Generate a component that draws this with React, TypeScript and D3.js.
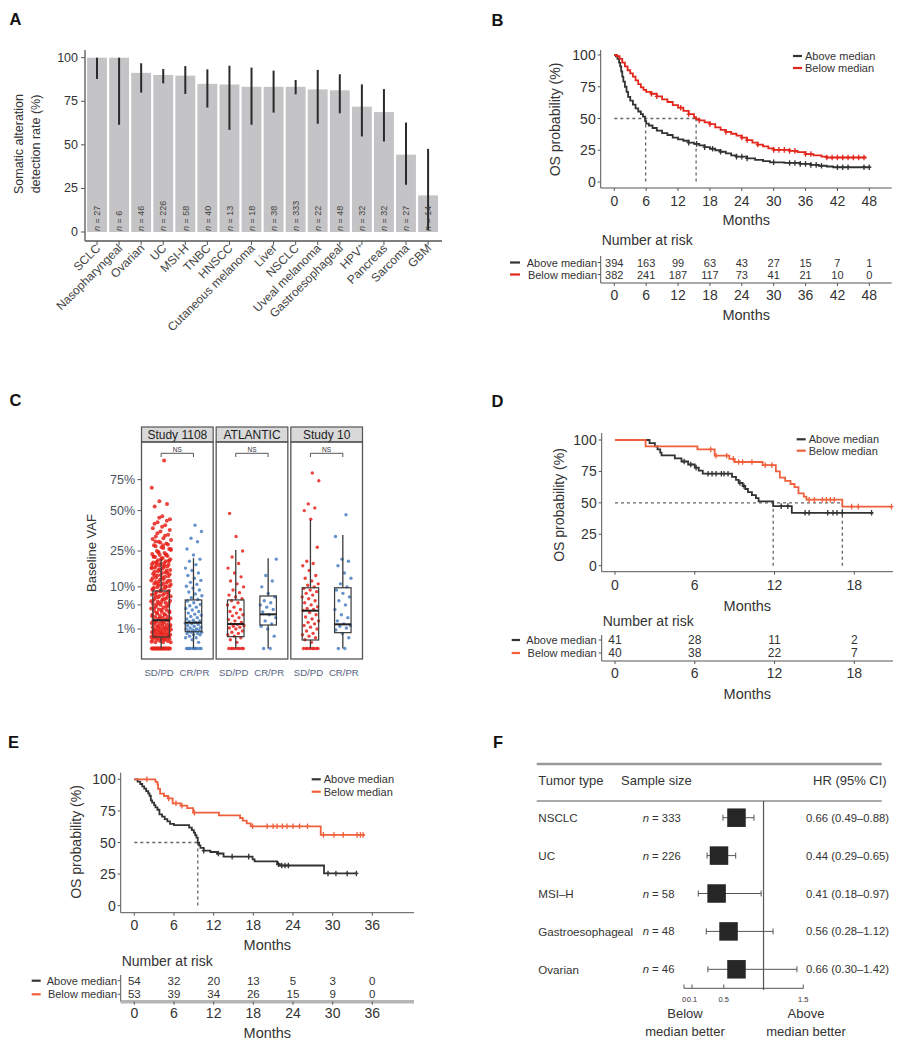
import React from "react";
import * as d3 from "d3";

const FONT = "'Liberation Sans', Arial, Helvetica, sans-serif";
const BLACK = "#333333";
const RED_B = "#e3261b";
const RED_DE = "#f0603d";
const AXIS = "#555";
const NDASH = "\u2013";

type Pt = [number, number];

// ---------------- Panel A data ----------------
const aCategories = ["SCLC", "Nasopharyngeal", "Ovarian", "UC", "MSI-H", "TNBC", "HNSCC", "Cutaneous melanoma", "Liver", "NSCLC", "Uveal melanoma", "Gastroesophageal", "HPV+", "Pancreas", "Sarcoma", "GBM"];
const aRates = [100, 100, 91.3, 90.1, 89.7, 85, 84.6, 83.3, 83.3, 83.3, 81.8, 81.3, 71.9, 68.8, 44.4, 21.0];
const aLower = [87.8, 61.5, 80, 85.3, 79.2, 71.4, 58.6, 61.5, 68.5, 79, 62.1, 68.1, 54.8, 51.9, 27.1, 1];
const aUpper = [100, 100, 96.8, 93.5, 95.2, 93.3, 95.4, 94.3, 92.6, 87.2, 93, 90.5, 84.7, 82, 62.8, 47.7];
const aN = [27, 6, 46, 226, 58, 40, 13, 18, 38, 333, 22, 48, 32, 32, 27, 14];
const aTicks = [0, 25, 50, 75, 100];

// ---------------- Panel B data ----------------
const bAbove: Pt[] = [[0, 100], [0.3, 99], [0.6, 97], [0.9, 94], [1.1, 91], [1.3, 87], [1.5, 83], [1.7, 79], [2.0, 75], [2.3, 71], [2.6, 67], [3.0, 64], [3.5, 61], [4.0, 58], [4.5, 55.5], [5.0, 53.5], [5.4, 51.5], [5.8, 48], [6.0, 46], [6.5, 44.5], [7.2, 42.5], [8.0, 40.5], [9.0, 38.5], [10.0, 37], [11.0, 35], [12.0, 33.5], [13.0, 32.5], [14.0, 31], [15.0, 30], [16.0, 28.8], [17.0, 27.5], [18.0, 26.2], [19.0, 25], [20.0, 23.8], [21.0, 22.5], [22.0, 21], [23.0, 20], [25.0, 18.6], [26.5, 17.5], [28.0, 16.5], [29.3, 15.5], [32.0, 15], [35.0, 14.3], [37.0, 13.5], [38.5, 12.8], [40.0, 12.2], [41.2, 11.6], [48.0, 11.6]];
const bBelow: Pt[] = [[0, 100], [0.5, 99], [1.0, 97], [1.5, 94], [2.0, 91], [2.5, 88], [3.0, 85.5], [3.5, 83], [4.0, 80], [4.5, 77], [5.0, 74.5], [5.5, 72.5], [6.0, 71], [7.0, 69.5], [8.0, 67.5], [9.0, 65], [10.0, 63], [11.0, 60.5], [12.0, 58.5], [13.0, 56], [14.0, 53.5], [15.0, 51], [15.4, 49.5], [16.0, 48.5], [17.0, 47], [18.0, 45.5], [19.0, 43], [20.0, 41], [21.0, 39.5], [22.0, 38], [23.0, 36.5], [24.0, 35], [25.0, 33], [26.0, 31], [27.0, 29.5], [28.0, 28], [29.0, 26.5], [30.0, 25.3], [33.0, 24.5], [34.5, 23.5], [36.0, 22], [37.5, 21], [39.0, 20], [40.0, 19.3], [47.5, 19.3]];
const bAboveCens = [14, 15.5, 17, 18.5, 20, 23, 24, 25, 30, 33, 34, 35, 36, 37, 38, 39, 42, 43, 44, 47, 48];
const bBelowCens = [7, 8, 12.5, 14, 16, 18, 21, 24, 25, 27, 30, 31, 32, 33, 34, 36, 37, 40, 41, 42, 43, 44, 45, 46, 47];
const bMedians = [5.9, 15.4];
const bRiskTimes = [0, 6, 12, 18, 24, 30, 36, 42, 48];
const bRiskAbove = [394, 163, 99, 63, 43, 27, 15, 7, 1];
const bRiskBelow = [382, 241, 187, 117, 73, 41, 21, 10, 0];

// ---------------- Panel C data ----------------
const cStudies = ["Study 1108", "ATLANTIC", "Study 10"];
const cGroups = ["SD/PD", "CR/PR"];
const cYTicks = [0.01, 0.05, 0.1, 0.25, 0.5, 0.75];
const c1108SD = [0, 0, 0, 0, 0, 0, 0, 0, 0, 0, 0, 0, 0, 0, 0, 0, 0, 0, 0, 0, 0.1, 0.1, 0.1, 0.15, 0.15, 0.2, 0.2, 0.2, 0.25, 0.25, 0.3, 0.3, 0.3, 0.35, 0.35, 0.4, 0.4, 0.4, 0.45, 0.5, 0.5, 0.5, 0.55, 0.6, 0.6, 0.65, 0.7, 0.7, 0.75, 0.8, 0.8, 0.85, 0.9, 0.9, 0.95, 1.0, 1.0, 1.1, 1.1, 1.2, 1.2, 1.3, 1.3, 1.4, 1.5, 1.5, 1.6, 1.7, 1.8, 1.9, 2.0, 2.0, 2.1, 2.2, 2.3, 2.4, 2.5, 2.6, 2.7, 2.8, 3.0, 3.1, 3.2, 3.4, 3.5, 3.7, 3.9, 4.0, 4.2, 4.4, 4.6, 4.8, 5.0, 5.2, 5.5, 5.8, 6.0, 6.3, 6.6, 7.0, 7.3, 7.6, 8.0, 8.4, 8.8, 9.2, 9.6, 10, 10.4, 10.8, 11.2, 11.6, 12, 12.5, 13, 13.5, 14, 14.5, 15, 15.5, 16, 16.5, 17, 17.5, 18, 18.5, 19, 19.5, 20, 20.5, 21, 21.5, 22, 22.5, 23, 23.5, 24, 25, 26, 27, 28, 29, 30, 31, 32, 33, 34, 36, 38, 40, 42, 44, 46, 53, 55, 57, 68, 93, 5.1, 5.4, 5.7, 6.2, 6.5, 6.9, 7.2, 7.5, 7.9, 8.3, 8.7, 9.1, 9.5, 9.9, 10.2, 10.6, 11, 11.4, 11.8, 12.2, 12.7, 13.2, 13.7, 14.2, 14.7, 15.2, 15.7, 16.2, 16.7, 17.2, 17.7, 18.2, 18.7, 19.2, 19.7, 20.2, 21.2, 22.2, 23.2, 24.5, 25.5, 26.5, 27.5, 28.5, 29.5, 31.5, 33.5, 35, 37, 39, 41, 43, 45, 0.12, 0.22, 0.32, 0.42, 0.62, 0.82, 1.05, 1.25, 1.45, 1.65, 1.85, 2.15, 2.45, 2.75, 3.05, 3.35, 3.65, 3.95, 4.3, 4.7, 5.3, 5.9, 6.4, 7.1, 7.8, 8.6, 9.4, 10.1, 11.1, 12.1, 13.1, 14.1, 15.1, 16.1, 17.1, 18.1, 19.1, 20.1, 21.1, 22.1, 23.1, 24.1, 26.1, 28.1, 30.1];
const c1108CR = [0, 0, 0, 0, 0, 0, 0, 0, 0, 0, 0.1, 0.2, 0.3, 0.3, 0.4, 0.5, 0.5, 0.6, 0.6, 0.7, 0.7, 0.8, 0.8, 0.9, 0.9, 1.0, 1.0, 1.1, 1.2, 1.3, 1.4, 1.5, 1.6, 1.7, 1.8, 1.9, 2.0, 2.1, 2.3, 2.5, 2.7, 2.9, 3.1, 3.3, 3.6, 3.9, 4.2, 4.5, 4.8, 5.1, 5.5, 5.9, 6.3, 6.8, 7.3, 7.8, 8.4, 9.0, 9.6, 10.2, 10.8, 11.5, 12.2, 13, 14, 15, 16, 17, 18.5, 20, 21, 23, 26, 30, 32, 36, 40];
const cAtlSD = [0, 0, 0, 0, 0, 0, 0, 0, 0.1, 0.2, 0.3, 0.4, 0.5, 0.6, 0.7, 0.8, 1.0, 1.1, 1.2, 1.3, 1.4, 1.5, 1.6, 1.8, 2.0, 2.2, 2.5, 2.8, 3.0, 3.3, 3.6, 4.0, 4.5, 5.0, 5.5, 6.0, 6.5, 7.0, 7.5, 8.2, 9.0, 10, 11, 12, 13.5, 15, 17, 19, 22, 25, 33, 48];
const cAtlCR = [0, 0, 0.4, 1.0, 1.3, 1.6, 2.0, 2.5, 3.0, 3.5, 4.0, 4.5, 5.0, 5.5, 6.0, 7.0, 8.0, 10, 12, 14, 21];
const c10SD = [0, 0, 0, 0, 0, 0, 0, 0, 0.1, 0.2, 0.3, 0.4, 0.5, 0.6, 0.8, 1.0, 1.2, 1.4, 1.6, 1.8, 2.0, 2.3, 2.6, 3.0, 3.4, 3.8, 4.0, 4.2, 4.6, 5, 5.5, 6, 6.5, 7, 7.5, 8, 8.5, 9, 9.5, 10, 10.5, 11, 12, 13, 14, 16, 18, 19, 20, 27, 44, 50, 52, 55, 74, 81];
const c10CR = [0, 0, 0.3, 0.6, 0.9, 1.1, 1.3, 1.4, 1.6, 2.0, 2.5, 3, 4, 5, 6, 7, 8, 9, 10, 11, 13, 15, 18, 20, 21, 33, 47];
// box stats in %: [lowWhisker, q1, median, q3, highWhisker]
const cBox1108SD = [0, 0.35, 2.1, 8.7, 21];
const cBox1108CR = [0, 0.74, 1.75, 6.2, 21.5];
const cBoxAtlSD = [0, 0.37, 1.58, 6.2, 25.5];
const cBoxAtlCR = [0, 1.45, 3.07, 7.25, 21.4];
const cBox10SD = [0, 0.19, 3.76, 9.7, 43.4];
const cBox10CR = [0, 0.66, 1.54, 9.7, 33.9];

// ---------------- Panel D data ----------------
const dAbove: Pt[] = [[0, 100], [2.6, 97.5], [3.0, 95], [3.2, 92.5], [3.4, 90], [3.5, 87.8], [4.5, 85.4], [5.0, 82.9], [5.5, 80.5], [6.0, 78], [6.3, 75.6], [6.6, 73.2], [8.8, 70.7], [9.1, 68.3], [9.3, 65.9], [9.6, 63.4], [9.8, 61], [10.0, 58.5], [10.3, 56.1], [10.6, 53.7], [10.8, 51.2], [11.9, 47.4], [13.3, 42.1], [19.4, 42.1]];
const dBelow: Pt[] = [[0, 100], [2.3, 95], [6.2, 92.5], [7.5, 87.5], [8.6, 85], [9.0, 82.5], [11.1, 80], [12.1, 75], [12.4, 70], [12.8, 67.5], [13.2, 65], [13.5, 62.5], [13.8, 57.5], [14.2, 55], [14.4, 52.5], [17.1, 47], [20.8, 47]];
const dAboveCens = [5.2, 5.7, 6.1, 7.0, 7.3, 7.6, 8.0, 8.2, 8.5, 9.4, 9.7, 12.5, 13.0, 14.3, 14.6, 16.0, 16.4, 16.7, 17.1, 19.3];
const dBelowCens = [7.2, 7.6, 8.4, 8.9, 9.3, 9.6, 10.3, 11.3, 11.8, 14.6, 15.0, 15.6, 15.9, 16.2, 16.5, 17.8, 18.3, 20.8];
const dMedians = [11.9, 17.1];
const dRiskTimes = [0, 6, 12, 18];
const dRiskAbove = [41, 28, 11, 2];
const dRiskBelow = [40, 38, 22, 7];

// ---------------- Panel E data ----------------
const eAbove: Pt[] = [[0, 100], [0.5, 98.1], [0.9, 96.3], [1.2, 94.4], [1.5, 92.6], [1.8, 90.7], [2.1, 88.9], [2.3, 87], [2.5, 83.3], [2.7, 81.5], [3.0, 79.6], [3.2, 77.8], [3.5, 75.9], [3.8, 72.2], [4.2, 70.4], [4.6, 68.5], [5.0, 66.7], [5.4, 64.8], [6.0, 63.8], [8.3, 61.8], [8.7, 59.8], [9.0, 57.8], [9.2, 55.8], [9.4, 53.8], [9.6, 49.8], [9.8, 47.8], [10.0, 45.7], [10.5, 43.6], [11.5, 42.5], [12.5, 41.3], [13.5, 38.8], [17.9, 36.6], [18.2, 35], [21.6, 32.8], [22.0, 31.8], [28.7, 25.5], [33.6, 25.5]];
const eBelow: Pt[] = [[0, 100], [3.2, 98], [3.5, 96], [3.6, 92.5], [3.9, 88.7], [4.5, 86.8], [5.1, 84.9], [5.8, 81], [7.0, 79.2], [8.0, 77.2], [8.9, 73.6], [12.8, 71.5], [16.0, 69.4], [16.4, 67.3], [17.0, 65.1], [17.6, 62.8], [28.2, 56], [34.9, 56]];
const eAboveCens = [10.5, 12.7, 14.8, 17.3, 21.8, 22.3, 22.8, 23.3, 29.3, 30.5, 32.2, 33.6];
const eBelowCens = [1.9, 5.2, 6.3, 7.2, 9.1, 17.9, 20.1, 21, 21.6, 22.4, 23.1, 24, 25, 26.2, 28.6, 30.2, 31.6, 33.7, 34.2, 34.6];
const eMedians = [9.6];
const eRiskTimes = [0, 6, 12, 18, 24, 30, 36];
const eRiskAbove = [54, 32, 20, 13, 5, 3, 0];
const eRiskBelow = [53, 39, 34, 26, 15, 9, 0];

// ---------------- Panel F data ----------------
const fTypes = ["NSCLC", "UC", "MSI\u2013H", "Gastroesophageal", "Ovarian"];
const fN = [333, 226, 58, 48, 46];
const fHR = [0.66, 0.44, 0.41, 0.56, 0.66];
const fLo = [0.49, 0.29, 0.18, 0.28, 0.3];
const fHi = [0.88, 0.65, 0.97, 1.12, 1.42];
const fTicks = [0, 0.1, 0.5, 1.5];

const jit = (i: number) => ((i * 0.6180339887) % 1) - 0.5;
const survAt = (pts: Pt[], t: number) => {
  let s = pts[0][1];
  for (const p of pts) if (p[0] <= t) s = p[1];
  return s;
};

function PanelA() {
  const x = d3.scaleBand<string>().domain(aCategories).range([86.2, 438.9]).paddingInner(0.1).paddingOuter(0.04);
  const y = d3.scaleLinear().domain([0, 100]).range([232, 57.7]);
  const bw = x.bandwidth();
  return (
    <g fontFamily={FONT}>
      {aCategories.map((c, i) => (
        <rect key={c} x={x(c)} y={y(aRates[i])} width={bw} height={y(0) - y(aRates[i])} fill="#c4c4c6" />
      ))}
      {aCategories.map((c, i) => (
        <line key={"e" + c} x1={x(c)! + bw / 2} x2={x(c)! + bw / 2} y1={y(aLower[i])} y2={y(aUpper[i])} stroke="#2a2a2a" strokeWidth={2} />
      ))}
      {aCategories.map((c, i) => (
        <text key={"n" + c} transform={`translate(${x(c)! + bw / 2 + 3.2},231) rotate(-90)`} fontSize={9} fill="#444">
          <tspan fontStyle="italic">n</tspan> = {aN[i]}
        </text>
      ))}
      <line x1={85} x2={85} y1={50} y2={241} stroke={AXIS} strokeWidth={1.3} />
      <line x1={85} x2={442} y1={241} y2={241} stroke={AXIS} strokeWidth={1.3} />
      {aTicks.map((t) => (
        <g key={t}>
          <line x1={81} x2={85} y1={y(t)} y2={y(t)} stroke={AXIS} />
          <text x={78} y={y(t)} textAnchor="end" dominantBaseline="central" fontSize={12.5} fill="#333">{t}</text>
        </g>
      ))}
      {aCategories.map((c) => (
        <g key={"t" + c}>
          <line x1={x(c)! + bw / 2} x2={x(c)! + bw / 2} y1={241} y2={245} stroke={AXIS} />
          <text transform={`translate(${x(c)! + bw / 2 + 4},249) rotate(-45)`} textAnchor="end" fontSize={12} fill="#444">
            {c === "HPV+" ? (<>HPV<tspan fontSize={8} dy={-4}>+</tspan></>) : c}
          </text>
        </g>
      ))}
      <g transform="translate(23,144) rotate(-90)" fontSize={12.5} fill="#333" textAnchor="middle">
        <text x={0} y={0}>Somatic alteration</text>
        <text x={0} y={17}>detection rate (%)</text>
      </g>
    </g>
  );
}

interface KMCurve { pts: Pt[]; cens: number[]; color: string; label: string; risk: number[] }
interface KMProps {
  x: d3.ScaleLinear<number, number>;
  y: d3.ScaleLinear<number, number>;
  xTicks: number[];
  axisL: number; axisR: number; axisT: number; axisB: number;
  tickY: number; monthsY: number; yTitleX: number; yTitleY: number;
  curves: KMCurve[];
  medians: number[];
  legX: number; legY: number; legDy: number;
  riskTitleY: number; riskRows: number[]; riskLabelX: number; riskLineX: [number, number];
  riskAxisT: number; riskAxisB: number; riskTickY: number; riskMonthsY: number; riskThick?: boolean;
  riskTimes: number[]; fsTick: number; fsRisk: number;
}

function KMPanel(p: KMProps) {
  const { x, y } = p;
  const line = d3.line<Pt>().x((d) => x(d[0])).y((d) => y(d[1])).curve(d3.curveStepAfter);
  const midX = (p.axisL + p.axisR) / 2;
  const medMax = Math.max(...p.medians);
  return (
    <g fontFamily={FONT} fill="#333">
      <line x1={p.axisL} x2={p.axisL} y1={p.axisT} y2={p.axisB} stroke={AXIS} />
      <line x1={p.axisL} x2={p.axisR} y1={p.axisB} y2={p.axisB} stroke={AXIS} />
      {[0, 25, 50, 75, 100].map((v) => (
        <g key={v}>
          <line x1={p.axisL - 3} x2={p.axisL} y1={y(v)} y2={y(v)} stroke={AXIS} />
          <text x={p.axisL - 5} y={y(v)} textAnchor="end" dominantBaseline="central" fontSize={p.fsTick}>{v}</text>
        </g>
      ))}
      {p.xTicks.map((t) => (
        <g key={t}>
          <line x1={x(t)} x2={x(t)} y1={p.axisB} y2={p.axisB + 3} stroke={AXIS} />
          <text x={x(t)} y={p.tickY} textAnchor="middle" dominantBaseline="central" fontSize={p.fsTick}>{t}</text>
        </g>
      ))}
      <text x={midX} y={p.monthsY} textAnchor="middle" fontSize={14.5}>Months</text>
      <text transform={`translate(${p.yTitleX},${p.yTitleY}) rotate(-90)`} textAnchor="middle" fontSize={14}>OS probability (%)</text>
      <line x1={x(0)} x2={x(medMax)} y1={y(50)} y2={y(50)} stroke="#666" strokeDasharray="3,3" strokeWidth={1.3} />
      {p.medians.map((m) => (
        <line key={m} x1={x(m)} x2={x(m)} y1={y(50)} y2={y(0)} stroke="#666" strokeDasharray="3,3" strokeWidth={1.3} />
      ))}
      {p.curves.map((c) => (
        <g key={c.label}>
          <path d={line(c.pts)!} fill="none" stroke={c.color} strokeWidth={1.8} />
          {c.cens.map((t, i) => {
            const cx = x(t), cy = y(survAt(c.pts, t));
            return <path key={i} d={`M${cx},${cy - 2.8}V${cy + 2.8}M${cx - 2},${cy}H${cx + 2}`} stroke={c.color} strokeWidth={1.3} />;
          })}
        </g>
      ))}
      {p.curves.map((c, i) => (
        <g key={"lg" + c.label}>
          <line x1={p.legX} x2={p.legX + 9} y1={p.legY + i * p.legDy} y2={p.legY + i * p.legDy} stroke={c.color} strokeWidth={2.2} />
          <text x={p.legX + 12} y={p.legY + i * p.legDy} dominantBaseline="central" fontSize={11}>{c.label}</text>
        </g>
      ))}
      <text x={p.axisL + 1} y={p.riskTitleY} fontSize={14}>Number at risk</text>
      <line x1={p.axisL} x2={p.axisL} y1={p.riskAxisT} y2={p.riskAxisB} stroke={AXIS} />
      <line x1={p.axisL} x2={p.axisR} y1={p.riskAxisB} y2={p.riskAxisB} stroke={p.riskThick ? "#b5b5b5" : AXIS} strokeWidth={p.riskThick ? 3.5 : 1} />
      {p.curves.map((c, i) => (
        <g key={"rk" + c.label}>
          <line x1={p.riskLineX[0]} x2={p.riskLineX[1]} y1={p.riskRows[i]} y2={p.riskRows[i]} stroke={c.color} strokeWidth={2.2} />
          <text x={p.riskLabelX} y={p.riskRows[i]} textAnchor="end" dominantBaseline="central" fontSize={11}>{c.label}</text>
          <line x1={p.axisL - 3} x2={p.axisL} y1={p.riskRows[i]} y2={p.riskRows[i]} stroke={AXIS} />
          {p.riskTimes.map((t, j) => (
            <text key={t} x={x(t)} y={p.riskRows[i]} textAnchor="middle" dominantBaseline="central" fontSize={p.fsRisk}>{c.risk[j]}</text>
          ))}
        </g>
      ))}
      {p.riskTimes.map((t) => (
        <g key={"rt" + t}>
          <line x1={x(t)} x2={x(t)} y1={p.riskAxisB} y2={p.riskAxisB + 3} stroke={AXIS} />
          <text x={x(t)} y={p.riskTickY} textAnchor="middle" dominantBaseline="central" fontSize={p.fsTick}>{t}</text>
        </g>
      ))}
      <text x={midX} y={p.riskMonthsY} textAnchor="middle" fontSize={14.5}>Months</text>
    </g>
  );
}

function PanelC() {
  const fx = d3.scaleBand<string>().domain(cStudies).range([141.5, 362.5]).paddingInner(0.04);
  const gx = d3.scalePoint<string>().domain(cGroups).range([0, 68]).padding(0.55);
  const y = d3.scaleSqrt().domain([0, 1]).range([648.5, 453.5]);
  const fw = fx.bandwidth();
  const pts = [[c1108SD, c1108CR], [cAtlSD, cAtlCR], [c10SD, c10CR]];
  const boxes = [[cBox1108SD, cBox1108CR], [cBoxAtlSD, cBoxAtlCR], [cBox10SD, cBox10CR]];
  const colors = ["#e8231c", "#4a7fc1"];
  return (
    <g fontFamily={FONT}>
      {cYTicks.map((t) => (
        <g key={t}>
          <line x1={137.5} x2={141.5} y1={y(t)} y2={y(t)} stroke={AXIS} />
          <text x={135} y={y(t)} textAnchor="end" dominantBaseline="central" fontSize={12.5} fill="#4a4f60">{Math.round(t * 100)}%</text>
        </g>
      ))}
      <text transform="translate(95.5,553) rotate(-90)" textAnchor="middle" fontSize={13} fill="#333">Baseline VAF</text>
      {cStudies.map((s, si) => {
        const left = fx(s)!;
        return (
          <g key={s}>
            <rect x={left} y={427} width={fw} height={15} fill="#d9d9d9" stroke="#555" strokeWidth={1.2} />
            <text x={left + fw / 2} y={438.5} textAnchor="middle" fontSize={12} fill="#222">{s}</text>
            {cGroups.map((g, gi) => {
              const cx = left + 1.8 + gx(g)!;
              const vals = pts[si][gi];
              const dense = si === 0 && gi === 0;
              const jw = dense ? 20 : 17;
              return (
                <g key={g}>
                  {vals.map((v, i) => (
                    <circle key={i} cx={cx + jit(i + 1) * jw} cy={y(v / 100)} r={dense ? 2 : 1.7} fill={colors[gi]} fillOpacity={0.85} />
                  ))}
                </g>
              );
            })}
            {cGroups.map((g, gi) => {
              const cx = left + 1.8 + gx(g)!;
              const [lo, q1, md, q3, hi] = boxes[si][gi].map((v) => y(v / 100));
              const bw = 16.5;
              return (
                <g key={"b" + g} stroke="#3a3a3a" fill="none">
                  <line x1={cx} x2={cx} y1={q3} y2={hi} strokeWidth={1.3} />
                  <line x1={cx} x2={cx} y1={q1} y2={lo} strokeWidth={1.3} />
                  <rect x={cx - bw / 2} y={q3} width={bw} height={q1 - q3} strokeWidth={1.2} />
                  <line x1={cx - bw / 2} x2={cx + bw / 2} y1={md} y2={md} strokeWidth={2} stroke="#222" />
                </g>
              );
            })}
            <path d={`M${left + 1.8 + gx("SD/PD")!},457V453.3H${left + 1.8 + gx("CR/PR")!}V457`} fill="none" stroke="#444" strokeWidth={0.9} />
            <text x={left + 1.8 + (gx("SD/PD")! + gx("CR/PR")!) / 2} y={451.5} textAnchor="middle" fontSize={6.5} fill="#333">NS</text>
            <rect x={left} y={442} width={fw} height={217} fill="none" stroke="#555" strokeWidth={1.3} />
            {cGroups.map((g, gi) => (
              <text key={"l" + g} x={left + 1.8 + gx(g)! + (gi === 0 ? -2 : 1)} y={676} textAnchor="middle" fontSize={9.6} fill="#56617e">{g}</text>
            ))}
          </g>
        );
      })}
    </g>
  );
}

function PanelF() {
  const x = d3.scaleLinear().domain([0, 1.5]).range([684, 803.3]);
  const y = d3.scalePoint<string>().domain(fTypes).range([817.7, 969.3]);
  const box = 18.5;
  return (
    <g fontFamily={FONT} fill="#333">
      <line x1={536.7} x2={881.7} y1={764} y2={764} stroke="#9a9a9a" strokeWidth={2.5} />
      <text x={538.3} y={780.7} dominantBaseline="central" fontSize={13}>Tumor type</text>
      <text x={621} y={780.7} dominantBaseline="central" fontSize={13}>Sample size</text>
      <text x={886.7} y={780.7} textAnchor="end" dominantBaseline="central" fontSize={13}>HR (95% CI)</text>
      <line x1={536.7} x2={881.7} y1={801} y2={801} stroke="#aaa" strokeWidth={2} />
      <line x1={x(1)} x2={x(1)} y1={801} y2={990} stroke="#555" strokeWidth={1.2} />
      {fTypes.map((t, i) => {
        const cy = y(t)!;
        return (
          <g key={t}>
            <text x={538.3} y={cy} dominantBaseline="central" fontSize={11.6}>{t}</text>
            <text x={642.7} y={cy} dominantBaseline="central" fontSize={11.3}>
              <tspan fontStyle="italic">n</tspan> = {fN[i]}
            </text>
            <path d={`M${x(fLo[i])},${cy}H${x(fHi[i])}M${x(fLo[i])},${cy - 3}V${cy + 3}M${x(fHi[i])},${cy - 3}V${cy + 3}`} stroke="#555" strokeWidth={1} fill="none" />
            <rect x={x(fHR[i]) - box / 2} y={cy - box / 2} width={box} height={box} fill="#262626" />
            <text x={889} y={cy} textAnchor="end" dominantBaseline="central" fontSize={11.3}>
              {`${fHR[i].toFixed(2)} (${fLo[i].toFixed(2)}${NDASH}${fHi[i].toFixed(2)})`}
            </text>
          </g>
        );
      })}
      <line x1={x(0)} x2={x(1.5)} y1={988.3} y2={988.3} stroke="#555" />
      {fTicks.map((t) => (
        <g key={t}>
          <line x1={x(t)} x2={x(t)} y1={984.5} y2={988.3} stroke="#555" />
          <text x={x(t)} y={999} textAnchor="middle" dominantBaseline="central" fontSize={7.5}>{t}</text>
        </g>
      ))}
      <text x={685} y={1013} textAnchor="middle" dominantBaseline="central" fontSize={13}>Below</text>
      <text x={685} y={1031} textAnchor="middle" dominantBaseline="central" fontSize={13}>median better</text>
      <text x={806} y={1013} textAnchor="middle" dominantBaseline="central" fontSize={13}>Above</text>
      <text x={806} y={1031} textAnchor="middle" dominantBaseline="central" fontSize={13}>median better</text>
    </g>
  );
}

export default function App() {
  const xB = d3.scaleLinear().domain([0, 48]).range([614.3, 869.3]);
  const yB = d3.scaleLinear().domain([0, 100]).range([182, 55]);
  const xD = d3.scaleLinear().domain([0, 18]).range([615, 854.3]);
  const yD = d3.scaleLinear().domain([0, 100]).range([565.7, 440]);
  const xE = d3.scaleLinear().domain([0, 36]).range([134.3, 372.3]);
  const yE = d3.scaleLinear().domain([0, 100]).range([905.7, 779.3]);
  const letter = (t: string, x: number, y: number) => (
    <text x={x} y={y} fontFamily={FONT} fontWeight="bold" fontSize={16.5} fill="#111">{t}</text>
  );
  return (
    <svg width={907} height={1050} style={{ position: "absolute", left: 0, top: 0, background: "#fff" }}>
      <rect x={0} y={0} width={907} height={1050} fill="#fff" />
      {letter("A", 9.5, 25)}
      {letter("B", 491.5, 25.5)}
      {letter("C", 9.5, 406)}
      {letter("D", 491.5, 406.5)}
      {letter("E", 8, 748)}
      {letter("F", 493, 748)}
      <PanelA />
      <KMPanel
        x={xB} y={yB} xTicks={bRiskTimes} axisL={600.7} axisR={891.7} axisT={50} axisB={188}
        tickY={200.5} monthsY={224.5} yTitleX={560} yTitleY={119.5}
        curves={[
          { pts: bAbove, cens: bAboveCens, color: BLACK, label: "Above median", risk: bRiskAbove },
          { pts: bBelow, cens: bBelowCens, color: RED_B, label: "Below median", risk: bRiskBelow },
        ]}
        medians={bMedians} legX={793} legY={56} legDy={12}
        riskTitleY={245} riskRows={[262.5, 274.5]} riskLabelX={597} riskLineX={[510, 520]}
        riskAxisT={256} riskAxisB={283} riskTickY={295} riskMonthsY={319.5} riskTimes={bRiskTimes}
        fsTick={14} fsRisk={11}
      />
      <PanelC />
      <KMPanel
        x={xD} y={yD} xTicks={dRiskTimes} axisL={601.7} axisR={893} axisT={433} axisB={571.7}
        tickY={585} monthsY={611} yTitleX={564} yTitleY={505}
        curves={[
          { pts: dAbove, cens: dAboveCens, color: BLACK, label: "Above median", risk: dRiskAbove },
          { pts: dBelow, cens: dBelowCens, color: RED_DE, label: "Below median", risk: dRiskBelow },
        ]}
        medians={dMedians} legX={796.7} legY={439.3} legDy={11.4}
        riskTitleY={626} riskRows={[640, 653]} riskLabelX={596.7} riskLineX={[511.7, 520]}
        riskAxisT={635} riskAxisB={661} riskTickY={673} riskMonthsY={699} riskTimes={dRiskTimes}
        fsTick={14} fsRisk={12}
      />
      <KMPanel
        x={xE} y={yE} xTicks={eRiskTimes} axisL={120.7} axisR={414} axisT={772.7} axisB={912.7}
        tickY={925} monthsY={950} yTitleX={81} yTitleY={842}
        curves={[
          { pts: eAbove, cens: eAboveCens, color: BLACK, label: "Above median", risk: eRiskAbove },
          { pts: eBelow, cens: eBelowCens, color: RED_DE, label: "Below median", risk: eRiskBelow },
        ]}
        medians={eMedians} legX={311.7} legY={779.3} legDy={12.4}
        riskTitleY={966} riskRows={[980.7, 994.3]} riskLabelX={117} riskLineX={[31.7, 40.7]}
        riskAxisT={975} riskAxisB={1001.7} riskTickY={1013} riskMonthsY={1038} riskThick riskTimes={eRiskTimes}
        fsTick={14} fsRisk={11.5}
      />
      <PanelF />
    </svg>
  );
}
